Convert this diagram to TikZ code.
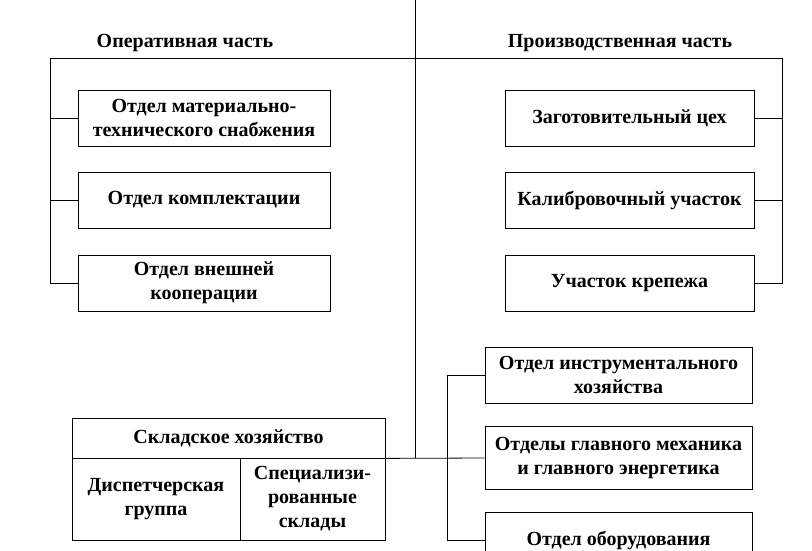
\documentclass[tikz,border=0pt]{standalone}
\usepackage{fontspec}
\setmainfont{Liberation Serif}
\begin{document}
\begin{tikzpicture}[x=1pt,y=-1pt,
  unit/.style={draw,thick,minimum width=#1,minimum height=56,align=center,font=\fontsize{20}{24}\selectfont\bfseries,inner sep=2pt},
  unit/.default=252,
  head/.style={font=\fontsize{20}{24}\selectfont\bfseries},
  every path/.style={thick}]
\useasboundingbox (0,0) rectangle (812,550);
% heads
\node[head] (ophead) at (185,43) {Оперативная часть};
\node[head] (prhead) at (620,43) {Производственная часть};
\coordinate (top) at (415,0);
\coordinate (hub) at (415,458);
\coordinate (lcorner) at (50,58);
\coordinate (rcorner) at (782,58);
\draw (top) -- (hub);
\draw (lcorner) -- (rcorner);
% left units
\node[unit] (snab) at (204,118) {Отдел материально-\\технического снабжения};
\node[unit] (kompl) at (204,200) {Отдел комплектации};
\node[unit] (koop) at (204,283) {Отдел внешней\\кооперации};
\draw (lcorner) |- (koop.west);
\foreach \n in {snab,kompl} \draw (\n.west) -- (\n.west -| lcorner);
% right units
\node[unit=249] (zag) at (629.5,118) {Заготовительный цех};
\node[unit=249] (kalib) at (629.5,200) {Калибровочный участок};
\node[unit=249] (krep) at (629.5,283) {Участок крепежа};
\draw (rcorner) |- (krep.east);
\foreach \n in {zag,kalib} \draw (\n.east) -- (\n.east -| rcorner);
% storage
\node[draw,thick,minimum width=313,minimum height=40,head] (sklad) at (228.5,438) {Складское хозяйство};
\node[draw,thick,minimum width=168,minimum height=82,align=center,head] (disp) at (156,499) {Диспетчерская\\группа};
\node[draw,thick,minimum width=145,minimum height=82,align=center,head] (spec) at (312.5,499) {Специализи-\\рованные\\склады};
% lower right units
\node[unit=267] (instr) at (618.5,375) {Отдел инструментального\\хозяйства};
\node[unit=267,minimum height=63] (mech) at (618.5,458) {Отделы главного механика\\и главного энергетика};
\node[unit=267] (obor) at (618.5,540) {Отдел оборудования};
\coordinate (rbar) at (447,375);
\draw (sklad.south east) -- (mech.west);
\draw (instr.west) -- (rbar) |- (obor.west);
\end{tikzpicture}
\end{document}
